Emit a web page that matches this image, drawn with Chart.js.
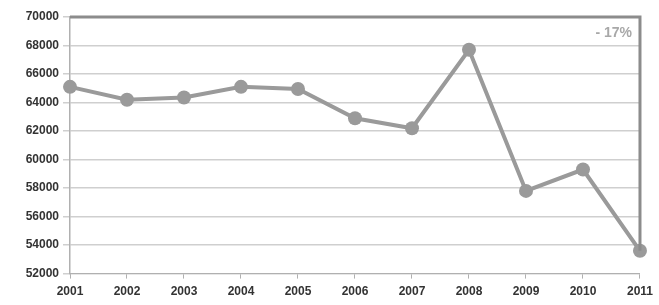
<!DOCTYPE html>
<html>
<head>
<meta charset="utf-8">
<script src="https://cdn.jsdelivr.net/npm/chart.js@4/dist/chart.umd.min.js"></script>
<style>
  html, body { margin: 0; padding: 0; background: #fff; }
  #wrap { width: 659px; height: 305px; position: relative; }
</style>
</head>
<body>
<div id="wrap"><canvas id="chart"></canvas></div>
<script>
// années et valeurs
const annees = ['2001', '2002', '2003', '2004', '2005', '2006', '2007', '2008', '2009', '2010', '2011'];
const valeurs = [65100, 64200, 64350, 65100, 64950, 62900, 62200, 67700, 57800, 59300, 53600];
const etiquette = '- 17%';

const gris = '#9a9a9a';

// cadre haut/droite + texte de variation
const cadrePlugin = {
    id: 'cadre',
    afterDatasetsDraw(chart) {
        const { ctx, chartArea, scales } = chart;
        const yDernier = scales.y.getPixelForValue(valeurs[valeurs.length - 1]);
        ctx.save();
        ctx.strokeStyle = '#8c8c8c';
        ctx.lineWidth = 3;
        ctx.beginPath();
        ctx.moveTo(chartArea.left, chartArea.top);
        ctx.lineTo(chartArea.right, chartArea.top);
        ctx.lineTo(chartArea.right, yDernier);
        ctx.stroke();
        ctx.fillStyle = '#a8a8a8';
        ctx.font = 'bold 14px "Liberation Sans", Arial, sans-serif';
        ctx.textAlign = 'right';
        ctx.textBaseline = 'middle';
        ctx.fillText(etiquette, chartArea.right - 8, chartArea.top + 16);
        ctx.restore();
    }
};

new Chart(document.getElementById('chart').getContext('2d'), {
    type: 'line',
    data: {
        labels: annees,
        datasets: [{
            data: valeurs,
            borderColor: gris,
            backgroundColor: gris,
            borderWidth: 4,
            pointRadius: 7,
            pointHoverRadius: 7,
            pointBackgroundColor: gris,
            pointBorderWidth: 0,
            tension: 0,
            fill: false
        }]
    },
    options: {
        responsive: true,
        maintainAspectRatio: false,
        animation: false,
        layout: { padding: { top: 17, right: 16, left: 0, bottom: 0 } },
        plugins: {
            legend: { display: false },
            tooltip: { enabled: false }
        },
        scales: {
            x: {
                offset: false,
                grid: { display: true, drawOnChartArea: false, drawTicks: true, tickLength: 5, color: '#b0b0b0' },
                border: { display: true, color: '#b0b0b0', width: 1 },
                ticks: {
                    color: '#333',
                    font: { family: '"Liberation Sans", Arial, sans-serif', size: 12, weight: 'bold' },
                    padding: 6,
                    maxRotation: 0
                }
            },
            y: {
                min: 52000,
                max: 70000,
                afterFit(scale) { scale.width = 70; },
                grid: { color: '#cfcfcf', lineWidth: 1.5, tickLength: 7 },
                border: { display: true, color: '#b0b0b0', width: 1.5 },
                ticks: {
                    stepSize: 2000,
                    color: '#333',
                    font: { family: '"Liberation Sans", Arial, sans-serif', size: 12, weight: 'bold' },
                    padding: 4,
                    callback: (v) => String(v)
                }
            }
        }
    },
    plugins: [cadrePlugin]
});
</script>
</body>
</html>
